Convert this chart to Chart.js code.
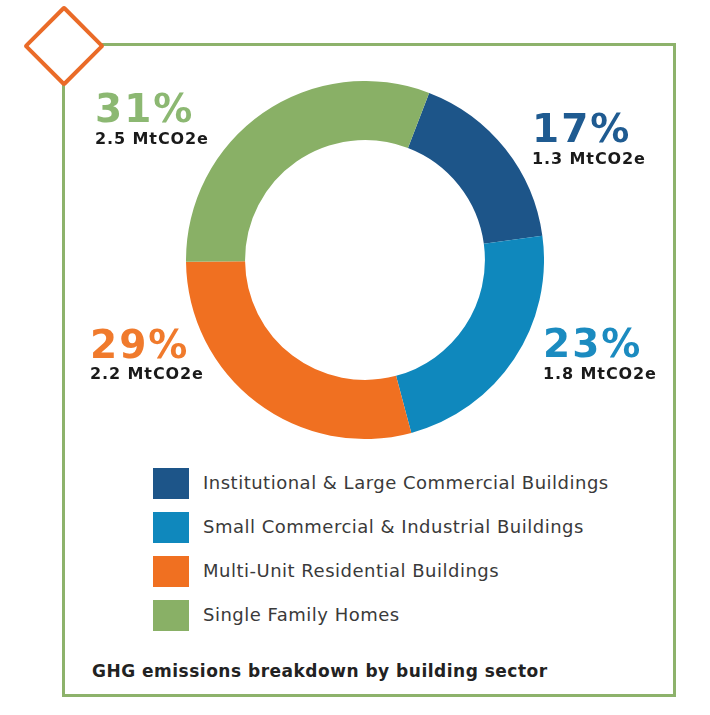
<!DOCTYPE html>
<html>
<head>
<meta charset="utf-8">
<script src="https://cdn.jsdelivr.net/npm/chart.js@4/dist/chart.umd.min.js"></script>
<style>
  html, body { margin:0; padding:0; background:#fff; }
  #wrap { position:relative; width:710px; height:715px; overflow:hidden; font-family:"DejaVu Sans", Verdana, sans-serif; }
  #box { position:absolute; left:62px; top:43px; width:608px; height:648px; border:3px solid #8db26b; }
  #diamond { position:absolute; left:35px; top:17px; width:50px; height:50px; border:4px solid #ea6b28; background:#fff; transform:rotate(45deg); border-radius:3px; }
  #chartBox { position:absolute; left:186px; top:81px; width:358px; height:358px; }
  .lbl { position:absolute; white-space:nowrap; line-height:1; font-weight:bold; }
  .pct { font-size:39px; letter-spacing:2px; }
  .val { font-size:16px; color:#1a1a1a; letter-spacing:0.9px; }
  .leg { position:absolute; left:153px; display:flex; align-items:center; }
  .sw { width:36px; height:31px; }
  .legtxt { position:absolute; font-size:18px; color:#3a3a3a; line-height:1; white-space:nowrap; letter-spacing:0.5px; }
  .ttl { position:absolute; font-size:17px; font-weight:bold; color:#222; line-height:1; white-space:nowrap; letter-spacing:0.5px; }
</style>
</head>
<body>
<div id="wrap">
  <div id="box"></div>
  <div id="diamond"></div>
  <div id="chartBox"><canvas id="c" width="358" height="358"></canvas></div>
</div>
<script>
const categories = [
  "Institutional & Large Commercial Buildings",
  "Small Commercial & Industrial Buildings",
  "Multi-Unit Residential Buildings",
  "Single Family Homes"
];
const percentages = [17, 23, 29, 31];
const emissions = [1.3, 1.8, 2.2, 2.5];
const unit = "MtCO2e";
const colors = ["#1d5589", "#0f88bd", "#f07021", "#89b066"];
const labelColors = ["#1f5b91", "#1b8bc0", "#f07a2c", "#8cb872"];
const chartTitle = "GHG emissions breakdown by building sector";

// label anchor positions (left, baseline) for annotations, per category
const labelPos = [[532, 142, 165], [543, 357, 380], [90, 358, 380], [95, 122, 145]];

const wrap = document.getElementById('wrap');
const ASC = 0.846; // baseline offset (em) for DejaVu Sans with line-height 1

function addText(cls, text, left, baseline, size, color) {
  const d = document.createElement('div');
  d.className = cls;
  d.textContent = text;
  d.style.left = left + 'px';
  d.style.top = (baseline - ASC * size) + 'px';
  if (color) d.style.color = color;
  wrap.appendChild(d);
  return d;
}

percentages.forEach((p, i) => {
  const [x, b1, b2] = labelPos[i];
  addText('lbl pct', p + '%', x, b1, 39, labelColors[i]);
  addText('lbl val', emissions[i].toFixed(1) + ' ' + unit, x, b2, 16);
});

categories.forEach((c, i) => {
  const sw = document.createElement('div');
  sw.className = 'leg';
  sw.style.top = (468 + i * 44) + 'px';
  sw.innerHTML = '<div class="sw" style="background:' + colors[i] + '"></div>';
  wrap.appendChild(sw);
  addText('legtxt', c, 203, 489 + i * 44, 18);
});

addText('ttl', chartTitle, 92, 677, 17);

new Chart(document.getElementById('c'), {
  type: 'doughnut',
  data: {
    labels: categories,
    datasets: [{
      data: percentages,
      backgroundColor: colors,
      borderWidth: 0
    }]
  },
  options: {
    responsive: false,
    animation: false,
    rotation: 21,
    cutout: '67%',
    layout: { padding: 0 },
    plugins: { legend: { display: false }, tooltip: { enabled: false } }
  }
});
</script>
</body>
</html>
